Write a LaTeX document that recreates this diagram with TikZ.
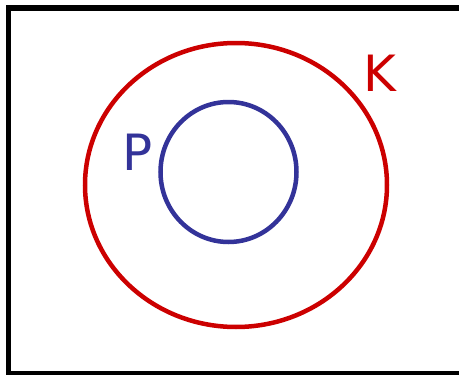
\documentclass[tikz,border=0pt]{standalone}
\usepackage{fontspec}
\setmainfont{DejaVu Sans}
\definecolor{setred}{HTML}{CC0000}
\definecolor{setblue}{HTML}{333399}
\begin{document}
\begin{tikzpicture}[
  x=1pt, y=-1pt,
  frame/.style={draw=black, line width=5.5pt},
  setline/.style={line width=4.5pt},
  lbl/.style={font=\fontsize{50}{50}\selectfont, inner sep=0pt}
]
\useasboundingbox (0,0) rectangle (459,375);
\draw[frame] (8.5,8) rectangle (475,374);
% outer set K
\coordinate (kc) at (236,185);
\draw[setline, setred] (kc) ellipse [x radius=151pt, y radius=142pt];
\node[lbl, text=setred] (k) at (380,73) {K};
% inner set P
\coordinate (pc) at (228.5,172);
\draw[setline, setblue] (pc) ellipse [x radius=68pt, y radius=70pt];
\node[lbl, text=setblue] (p) at (137.5,152) {P};
\end{tikzpicture}
\end{document}
